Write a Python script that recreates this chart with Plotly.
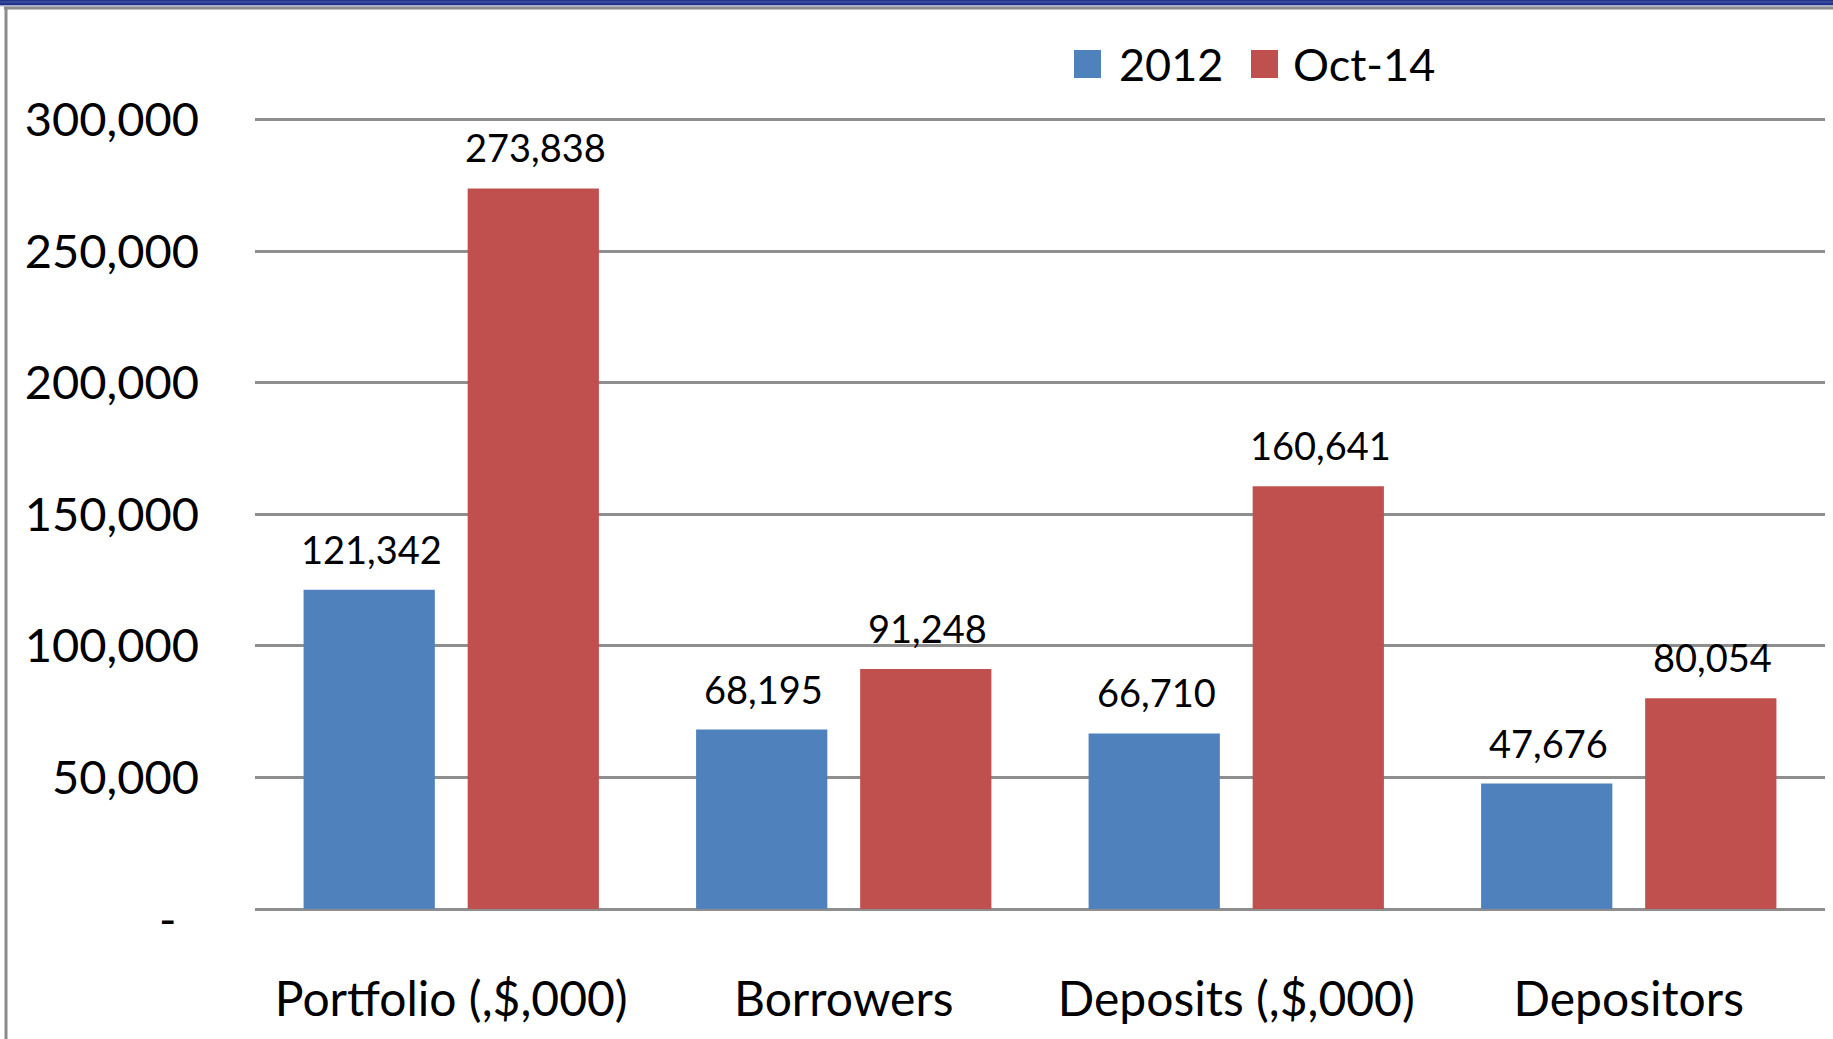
import plotly.graph_objects as go

categories = ["Portfolio (,$,000)", "Borrowers", "Deposits (,$,000)", "Depositors"]
series_names = ["2012", "Oct-14"]
values_2012 = [121342, 68195, 66710, 47676]
values_oct14 = [273838, 91248, 160641, 80054]
series_colors = ["#4F81BD", "#C0504D"]
tick_vals = [0, 50000, 100000, 150000, 200000, 250000, 300000]
tick_text = ["", "50,000", "100,000", "150,000", "200,000", "250,000", "300,000"]
zero_label = "-"

W, H = 1833, 1039
L, R, T, B = 255, 8, 118, 130
PW, PH = W - L - R, H - T - B
FONT = "Lato, Carlito, Calibri, sans-serif"


def px(x):
    return (x - L) / PW


def py(y):
    return (H - B - y) / PH


fig = go.Figure()
all_vals = [values_2012, values_oct14]
for name, vals, col in zip(series_names, all_vals, series_colors):
    fig.add_trace(go.Bar(
        name=name, x=categories, y=vals,
        marker=dict(color=col, line=dict(width=0)),
        showlegend=False,
    ))

# data labels
slot = PW / len(categories) * (1 - 0.164) / 2
offsets = [-slot / 2 + 2, slot / 2 + 2]
annotations = []
for vals, off in zip(all_vals, offsets):
    for c, v in zip(categories, vals):
        annotations.append(dict(
            x=c, y=v, xref="x", yref="y", text=f"{v:,}", showarrow=False,
            xshift=off, yshift=16, yanchor="bottom", xanchor="center",
            font=dict(family=FONT, size=38, color="#000000"),
        ))

# zero tick label (accounting-style dash)
annotations.append(dict(x=px(167), y=tick_vals[0], xref="paper", yref="y", text=zero_label,
                        showarrow=False, xanchor="center", yanchor="middle", yshift=-9,
                        font=dict(family=FONT, size=47, color="#000000")))

shapes = []
# custom legend
leg_items = [(1074, 1120), (1251, 1294)]
for (sx, tx), name, col in zip(leg_items, series_names, series_colors):
    shapes.append(dict(type="rect", xref="paper", yref="paper",
                       x0=px(sx), x1=px(sx + 27), y0=py(78), y1=py(50),
                       fillcolor=col, line=dict(width=0)))
    annotations.append(dict(x=px(tx - 3), y=py(64), xref="paper", yref="paper",
                            text=name, showarrow=False, xanchor="left", yanchor="middle",
                            font=dict(family=FONT, size=45, color="#000000")))

# frame: top blue band, grey lines
shapes += [
    dict(type="rect", xref="paper", yref="paper", x0=px(0), x1=px(W), y0=py(5.5), y1=py(0),
         fillcolor="#22348a", line=dict(width=0), layer="above"),
    dict(type="rect", xref="paper", yref="paper", x0=px(0), x1=px(W), y0=py(2.6), y1=py(1.6),
         fillcolor="#4a5ea8", line=dict(width=0), layer="above"),
    dict(type="rect", xref="paper", yref="paper", x0=px(0), x1=px(W), y0=py(6.5), y1=py(5.5),
         fillcolor="#b3b8d6", line=dict(width=0), layer="above"),
    dict(type="rect", xref="paper", yref="paper", x0=px(4), x1=px(W), y0=py(9.5), y1=py(6.5),
         fillcolor="#8c8c8c", line=dict(width=0), layer="above"),
    dict(type="rect", xref="paper", yref="paper", x0=px(4.5), x1=px(7.5), y0=py(H), y1=py(7),
         fillcolor="#8c8c8c", line=dict(width=0), layer="above"),
]

fig.update_layout(
    width=W, height=H,
    margin=dict(l=L, r=R, t=T, b=B, pad=0),
    paper_bgcolor="#ffffff", plot_bgcolor="#ffffff",
    barmode="group", bargap=0.164, bargroupgap=0.2,
    font=dict(family=FONT, color="#000000"),
    annotations=annotations, shapes=shapes,
    xaxis=dict(
        type="category", showgrid=False, showline=False, ticks="",
        tickfont=dict(family=FONT, size=48, color="#000000"),
        ticklabelstandoff=58,
    ),
    yaxis=dict(
        range=[0, 300600], tickvals=tick_vals, ticktext=tick_text,
        showgrid=True, gridcolor="#8e8e8e", gridwidth=2.5,
        zeroline=True, zerolinecolor="#8e8e8e", zerolinewidth=2.5,
        showline=False, ticks="",
        tickfont=dict(family=FONT, size=47, color="#000000"),
        ticklabelstandoff=55,
    ),
)

fig.write_html("out.html", config={"displayModeBar": False},
               post_script="document.body.style.margin='0';document.body.style.overflow='hidden';")
